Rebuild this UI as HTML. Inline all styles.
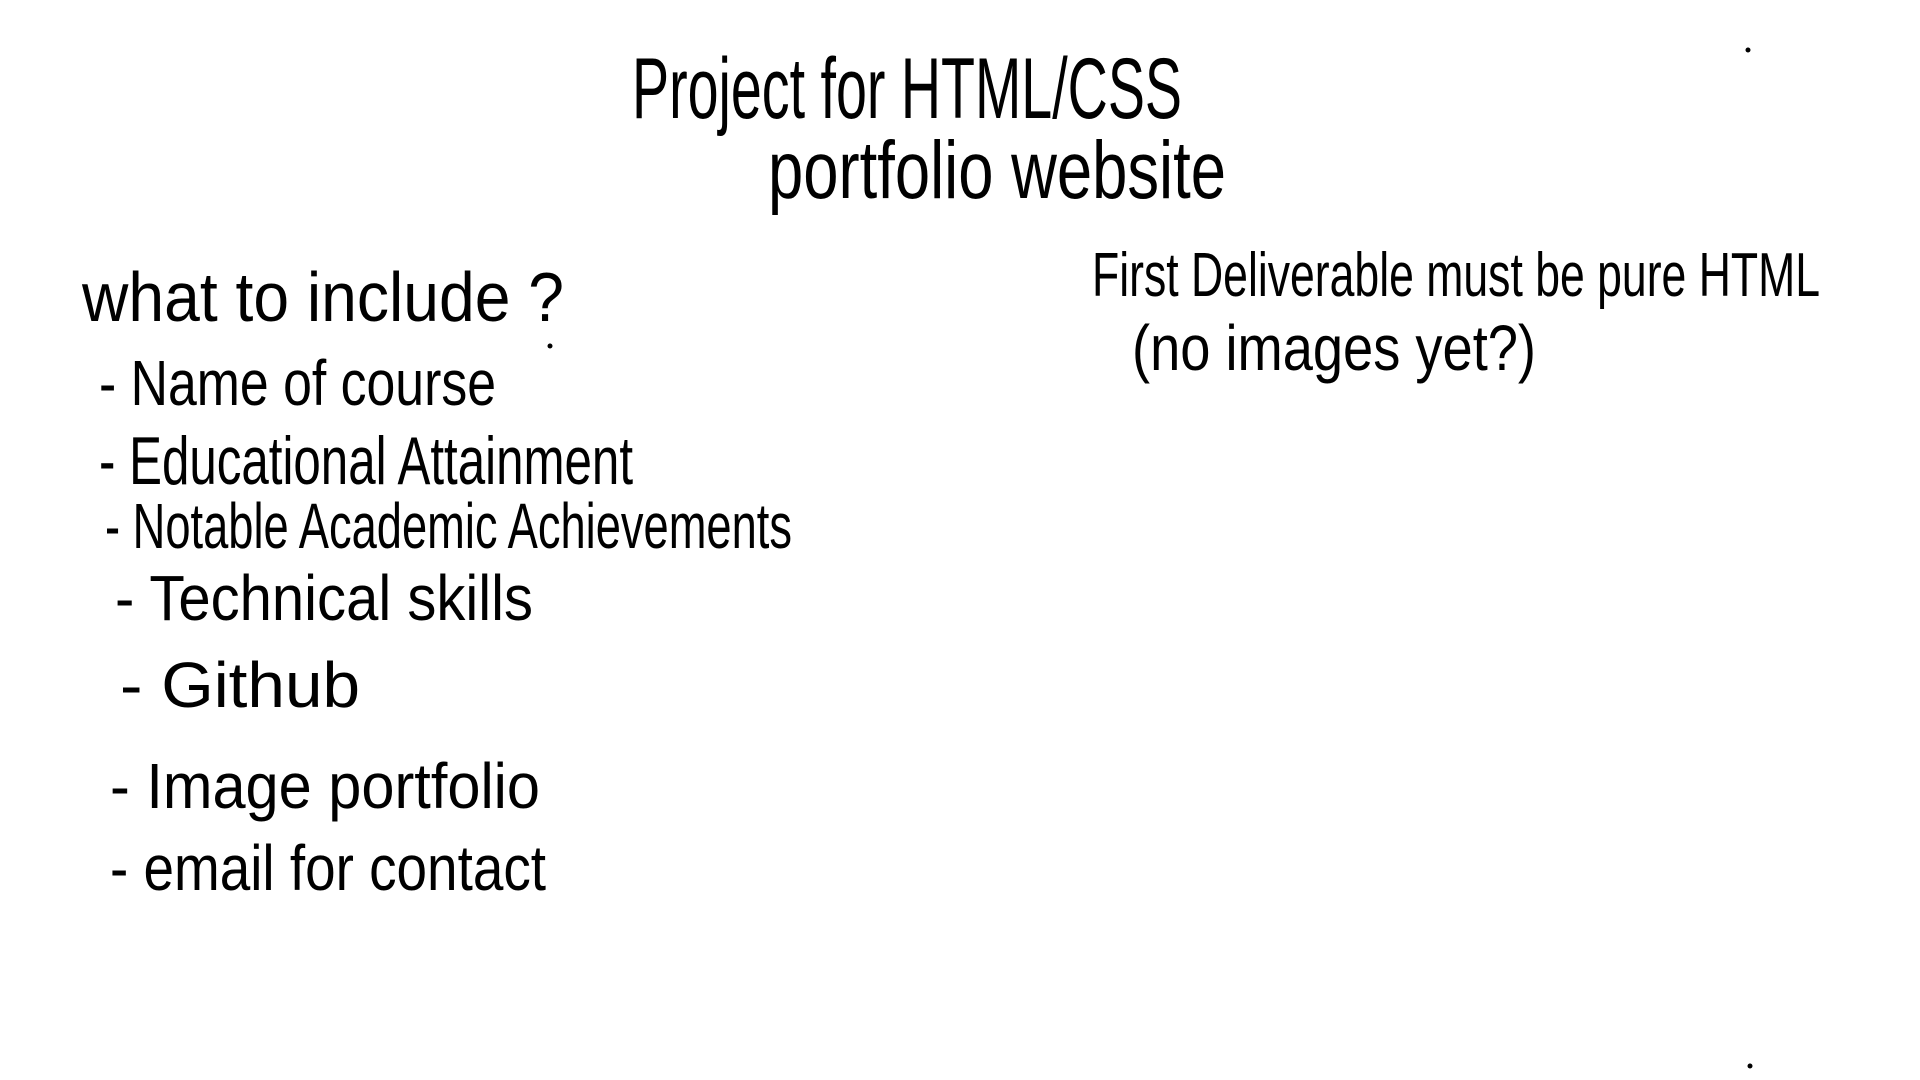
<!DOCTYPE html>
<html><head><meta charset="utf-8"><style>
html,body{margin:0;padding:0;background:#fff;width:1920px;height:1080px;overflow:hidden}
svg{display:block}
text{font-family:"Liberation Sans Narrow","Liberation Sans",sans-serif;fill:#000}
</style></head><body>
<svg width="1920" height="1080" viewBox="0 0 1920 1080">
<text x="632" y="118" font-size="86" textLength="550" lengthAdjust="spacingAndGlyphs">Project for HTML/CSS</text>
<text x="768" y="198" font-size="82" textLength="458" lengthAdjust="spacingAndGlyphs">portfolio website</text>
<text x="82" y="321" font-size="70" textLength="482" lengthAdjust="spacingAndGlyphs">what to include ?</text>
<text x="99" y="405" font-size="64" textLength="397" lengthAdjust="spacingAndGlyphs">- Name of course</text>
<text x="99" y="484" font-size="68" textLength="534" lengthAdjust="spacingAndGlyphs">- Educational Attainment</text>
<text x="105" y="548" font-size="64" textLength="687" lengthAdjust="spacingAndGlyphs">- Notable Academic Achievements</text>
<text x="115" y="620" font-size="64" textLength="418" lengthAdjust="spacingAndGlyphs">- Technical skills</text>
<text x="120" y="707" font-size="64" textLength="240" lengthAdjust="spacingAndGlyphs">-   Github</text>
<text x="110" y="808" font-size="64" textLength="430" lengthAdjust="spacingAndGlyphs">-  Image portfolio</text>
<text x="110" y="890" font-size="64" textLength="436" lengthAdjust="spacingAndGlyphs">-  email for contact</text>
<text x="1092" y="296" font-size="62" textLength="728" lengthAdjust="spacingAndGlyphs">First Deliverable must be pure HTML</text>
<text x="1132" y="370" font-size="64" textLength="404" lengthAdjust="spacingAndGlyphs">(no images yet?)</text>
<circle cx="1748" cy="50" r="2.5" fill="#000"/>
<circle cx="1750" cy="1066" r="2.5" fill="#000"/>
<circle cx="550" cy="346" r="2.5" fill="#000"/>
</svg>
</body></html>
